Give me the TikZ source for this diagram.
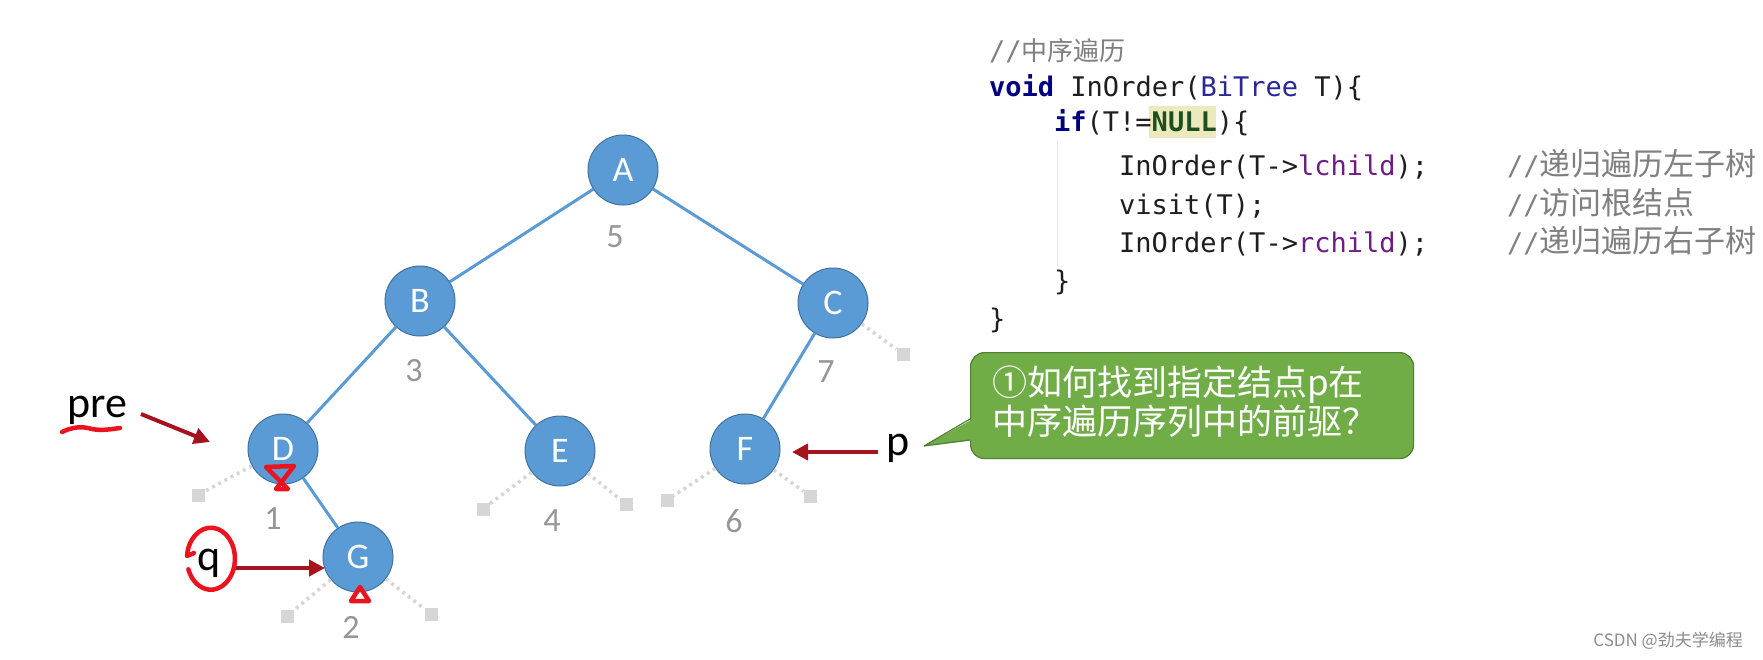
\documentclass[tikz,border=0pt]{standalone}
\usepackage{fontspec}
\setmainfont{Carlito}
\newfontfamily\codefont{DejaVu Sans Mono}
\newfontfamily\cjk{Noto Sans CJK SC}
\usetikzlibrary{arrows.meta}
\definecolor{nodeblue}{RGB}{91,155,213}
\definecolor{nodeborder}{RGB}{65,113,156}
\definecolor{numgray}{RGB}{150,150,150}
\definecolor{stubgray}{RGB}{214,214,214}
\definecolor{arrowred}{RGB}{165,20,30}
\definecolor{inkred}{RGB}{235,20,30}
\definecolor{kwblue}{RGB}{0,0,128}
\definecolor{typeblue}{RGB}{40,40,150}
\definecolor{nullgreen}{RGB}{30,80,30}
\definecolor{nullbg}{RGB}{237,233,190}
\definecolor{fieldpurple}{RGB}{110,30,130}
\definecolor{cmtgray}{RGB}{128,128,128}
\definecolor{codeblack}{RGB}{30,30,30}
\definecolor{calloutgreen}{RGB}{112,173,71}
\definecolor{calloutborder}{RGB}{80,126,50}
\begin{document}
\begin{tikzpicture}[x=1pt,y=-1pt,
 treenode/.style={circle,fill=nodeblue,draw=nodeborder,line width=1pt,minimum size=70pt,inner sep=0pt,text=white,font=\fontsize{36}{36}\selectfont},
 treeedge/.style={nodeblue,line width=3pt},
 numlbl/.style={text=numgray,font=\fontsize{34}{34}\selectfont,inner sep=0pt},
 leafsq/.style={fill=stubgray,minimum size=13pt,inner sep=0pt},
 stub/.style={stubgray,line width=3.5pt,dash pattern=on 3pt off 4pt},
 ptr/.style={arrowred,line width=4pt,-{Triangle[length=16pt,width=16pt]}},
 ink/.style={inkred,line width=4.5pt,line cap=round,line join=round},
 ptrlabel/.style={font=\fontsize{44}{44}\selectfont,inner sep=0pt,anchor=base west},
 codeline/.style={anchor=base west,inner sep=0pt,text=codeblack,font=\codefont\fontsize{27}{27}\selectfont},
 callouttext/.style={anchor=base west,inner sep=0pt,text=white,font=\cjk\fontsize{35}{35}\selectfont},
]
\fill[white] (0,0) rectangle (1763,659);
\useasboundingbox (0,0) rectangle (1763,659);

% ---------- tree ----------
\node[treenode] (A) at (623,170) {A};
\node[treenode] (B) at (420,301) {B};
\node[treenode] (C) at (833,303) {C};
\node[treenode] (D) at (283,449) {D};
\node[treenode] (E) at (560,451) {E};
\node[treenode] (F) at (745,449) {F};
\node[treenode] (G) at (358,557) {G};

\draw[treeedge] (A) -- (B);
\draw[treeedge] (A) -- (C);
\draw[treeedge] (B) -- (D);
\draw[treeedge] (B) -- (E);
\draw[treeedge] (C) -- (F);
\draw[treeedge] (D) -- (G);

\node[numlbl] (n5) at (615,237) {5};
\node[numlbl] (n3) at (414,371) {3};
\node[numlbl] (n7) at (826,372) {7};
\node[numlbl] (n1) at (273,519) {1};
\node[numlbl] (n4) at (552,521) {4};
\node[numlbl] (n6) at (734,521) {6};
\node[numlbl] (n2) at (351,627) {2};

% null stubs
\node[leafsq] (sC) at (903,354) {};
\node[leafsq] (sD) at (198,495) {};
\node[leafsq] (sEl) at (483,509) {};
\node[leafsq] (sEr) at (626,504) {};
\node[leafsq] (sFl) at (667,500) {};
\node[leafsq] (sFr) at (810,496) {};
\node[leafsq] (sGl) at (287,616) {};
\node[leafsq] (sGr) at (431,614) {};
\draw[stub] (C) -- (sC);
\draw[stub] (D) -- (sD);
\draw[stub] (E) -- (sEl);
\draw[stub] (E) -- (sEr);
\draw[stub] (F) -- (sFl);
\draw[stub] (F) -- (sFr);
\draw[stub] (G) -- (sGl);
\draw[stub] (G) -- (sGr);

% pointer labels and arrows
\node[ptrlabel] (pre) at (67,417) {pre};
\node[ptrlabel] (q) at (197,570) {q};
\node[ptrlabel] (p) at (886,455) {p};
\coordinate (preS) at (141,414);
\coordinate (preE) at (210,442);
\coordinate (qS) at (232,568);
\coordinate (qE) at (325,568);
\coordinate (pS) at (878,452);
\coordinate (pE) at (792,452);
\draw[ptr] (preS) -- (preE);
\draw[ptr] (qS) -- (qE);
\draw[ptr] (pS) -- (pE);

% red handwritten marks
\draw[ink] (62,432) .. controls (72,427) and (82,426) .. (92,429) .. controls (102,431) and (112,429) .. (120,428);
\draw[ink] (266,467) -- (294,466) -- (276,489) -- (288,489) -- cycle;
\draw[ink] (360,587) -- (351,601) -- (369,601) -- cycle;
\draw[ink] (194,553) -- (187,556) arc[start angle=185, end angle=520, x radius=24, y radius=31];

% ---------- code ----------
\fill[nullbg] (1149,106) rectangle (1216,138);
\draw[black!10, line width=1pt] (1057,142) -- (1057,266);
\node[codeline] (c1) at (989,60) {\color{cmtgray}//{\cjk\fontsize{26}{26}\selectfont 中序遍历}};
\node[codeline] (c2) at (989,96) {\textcolor{kwblue}{\bfseries void} InOrder(\textcolor{typeblue}{BiTree} T)\{};
\node[codeline] (c3) at (1054,131) {\textcolor{kwblue}{\bfseries if}(T!=\textcolor{nullgreen}{\bfseries NULL})\{};
\node[codeline] (c4) at (1119,175) {InOrder(T->\textcolor{fieldpurple}{lchild});};
\node[codeline] (c4c) at (1507,175) {\color{cmtgray}//{\cjk\fontsize{31}{31}\selectfont 递归遍历左子树}};
\node[codeline] (c5) at (1119,214) {visit(T);};
\node[codeline] (c5c) at (1507,214) {\color{cmtgray}//{\cjk\fontsize{31}{31}\selectfont 访问根结点}};
\node[codeline] (c6) at (1119,252) {InOrder(T->\textcolor{fieldpurple}{rchild});};
\node[codeline] (c6c) at (1507,252) {\color{cmtgray}//{\cjk\fontsize{31}{31}\selectfont 递归遍历右子树}};
\node[codeline] (c7) at (1054,290) {\}};
\node[codeline] (c8) at (989,328) {\}};

% ---------- callout ----------
\node[fill=calloutgreen,draw=calloutborder,line width=1.2pt,rounded corners=14pt,minimum width=443pt,minimum height=106pt,anchor=north west,inner sep=0pt] (box) at (970,352) {};
\fill[calloutgreen] (924,446) -- (973,440) -- (973,419) -- cycle;
\draw[calloutborder,line width=1.2pt,line join=round] (970,419) -- (924,446) -- (970,440);
\node[callouttext] (ct1) at (992,395) {①如何找到指定结点p在};
\node[callouttext] (ct2) at (992,434) {中序遍历序列中的前驱？};

% watermark
\node[anchor=base east,inner sep=0pt,text=black!45,font=\cjk\fontsize{17}{17}\selectfont] (wm) at (1743,646) {CSDN @劲夫学编程};
\end{tikzpicture}
\end{document}
